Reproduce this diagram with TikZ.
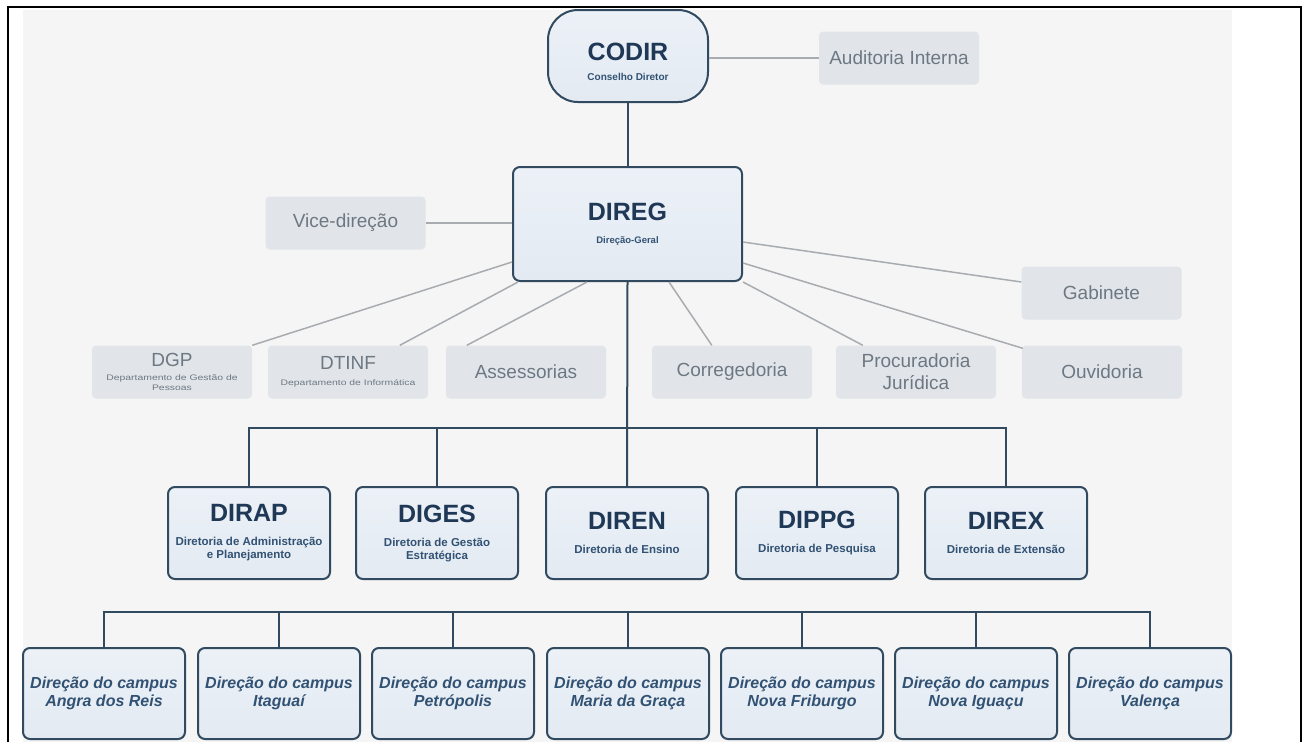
\documentclass[tikz,border=0pt]{standalone}
\usepackage{fontspec}
\setmainfont{Liberation Sans}
\usetikzlibrary{calc}
\definecolor{bgpanel}{RGB}{245,245,245}
\definecolor{darkline}{RGB}{50,74,96}
\definecolor{boxfill}{RGB}{227,234,242}
\definecolor{boxtop}{RGB}{236,241,247}
\definecolor{titlec}{RGB}{31,56,86}
\definecolor{subc}{RGB}{50,82,116}
\definecolor{grayfill}{RGB}{225,229,233}
\definecolor{grayt}{RGB}{110,120,130}
\definecolor{grayline}{RGB}{168,172,176}
\newcommand{\ttlline}[1]{{\fontsize{25}{27}\selectfont\bfseries\color{titlec}#1}}
\newcommand{\subline}[1]{{\fontsize{11.5}{13}\selectfont\bfseries\color{subc}#1}}
\newcommand{\tinyline}[1]{\scalebox{1.3}[1]{\fontsize{8}{9}\selectfont #1}}
\begin{document}
\begin{tikzpicture}[x=1pt,y=-1pt,
  darkbox/.style={draw=darkline,line width=2pt,rounded corners=7pt,top color=boxtop,bottom color=boxfill,
    inner sep=0pt,align=center,text=titlec,font=\fontsize{12}{13}\selectfont},
  codirbox/.style={darkbox,rounded corners=30pt,minimum width=160,minimum height=92},
  dirbox/.style={darkbox,minimum width=162,minimum height=92},
  campbox/.style={darkbox,minimum width=162,minimum height=91,
    font=\fontsize{16}{18}\selectfont\bfseries\itshape,text=subc},
  graybox/.style={fill=grayfill,rounded corners=4pt,inner sep=0pt,align=center,text=grayt,
    minimum width=160,minimum height=53,font=\fontsize{19}{22}\selectfont},
  graylink/.style={draw=grayline,line width=1.5pt},
  buslink/.style={draw=darkline,line width=2pt}
]
\useasboundingbox (0,0) rectangle (1304,742);
\fill[white] (0,0) rectangle (1304,742);
\fill[bgpanel] (23,10) rectangle (1232,742);
\draw[black,line width=2.5pt] (8,742) -- (8,7) -- (1301,7) -- (1301,742);

% top
\node[codirbox] (codir) at (628,56)
  {\rule{0pt}{30pt}\ttlline{CODIR}\\[7pt]{\fontsize{10}{12}\selectfont\bfseries\color{subc}Conselho Diretor}};
\node[graybox] (audit) at (899,58) {Auditoria Interna};

\node[darkbox,minimum width=229,minimum height=114] (direg) at (627.5,224)
  {\ttlline{DIREG}\\[10pt]{\fontsize{9.5}{11}\selectfont\bfseries\color{subc}Direção-Geral}};
\node[graybox] (vice) at (345.5,223) {Vice-direção};
\node[graybox] (gab) at (1101.5,293) {Gabinete};

% staff row
\node[graybox] (dgp) at (172,372)
  {DGP\\[-8pt]\tinyline{Departamento de Gestão de}\\[-12pt]\tinyline{Pessoas}};
\node[graybox] (dtinf) at (348,372)
  {DTINF\\[-6pt]\tinyline{Departamento de Informática}};
\node[graybox] (assess) at (526,372) {Assessorias};
\node[graybox] (correg) at (732,372) {Corregedoria};
\node[graybox] (procur) at (916,372) {Procuradoria\\Jurídica};
\node[graybox] (ouvid) at (1102,372) {Ouvidoria};

% directorates
\node[dirbox] (dirap) at (249,533)
  {\ttlline{DIRAP}\\[11pt]\subline{Diretoria de Administração}\\\subline{e Planejamento}};
\node[dirbox] (diges) at (437,533)
  {\ttlline{DIGES}\\[11pt]\subline{Diretoria de Gestão}\\\subline{Estratégica}};
\node[dirbox] (diren) at (627,533)
  {\ttlline{DIREN}\\[11pt]\subline{Diretoria de Ensino}};
\node[dirbox] (dippg) at (817,533)
  {\ttlline{DIPPG}\\[11pt]\subline{Diretoria de Pesquisa}};
\node[dirbox] (direx) at (1006,533)
  {\ttlline{DIREX}\\[11pt]\subline{Diretoria de Extensão}};

% campuses
\node[campbox] (c1) at (104,693.5) {Direção do campus\\Angra dos Reis};
\node[campbox] (c2) at (279,693.5) {Direção do campus\\Itaguaí};
\node[campbox] (c3) at (453,693.5) {Direção do campus\\Petrópolis};
\node[campbox] (c4) at (628,693.5) {Direção do campus\\Maria da Graça};
\node[campbox] (c5) at (802,693.5) {Direção do campus\\Nova Friburgo};
\node[campbox] (c6) at (976,693.5) {Direção do campus\\Nova Iguaçu};
\node[campbox] (c7) at (1150,693.5) {Direção do campus\\Valença};

\coordinate (b1) at (627,428);
\coordinate (b2) at (628,612);

\draw[graylink] (codir.east |- audit.west) -- (audit.west);
\draw[buslink] (codir.south) -- (codir.south |- direg.north);
\draw[graylink] (vice.east) -- (vice.east -| direg.west);
\draw[graylink] (dgp.north east) -- ($(direg.south west)+(0,-20)$);
\draw[graylink] ($(dtinf.north west)+(132,0)$) -- ($(direg.south west)+(6,0)$);
\draw[graylink] ($(assess.north west)+(21,0)$) -- ($(direg.south west)+(75,0)$);
\draw[graylink] ($(correg.north west)+(60,0)$) -- ($(direg.south west)+(157,0)$);
\draw[graylink] ($(procur.north west)+(27,0)$) -- (direg.south east);
\draw[graylink] ($(ouvid.north west)+(1,3)$) -- ($(direg.south east)+(0,-19)$);
\draw[graylink] ($(gab.west)+(0,-11)$) -- ($(direg.south east)+(0,-40)$);

\draw[buslink] (direg.south) -- (diren.north);
\draw[buslink] (dirap.north) -- (dirap.north |- b1) -- (direx.north |- b1) -- (direx.north);
\draw[buslink] (diges.north) -- (diges.north |- b1);
\draw[buslink] (dippg.north) -- (dippg.north |- b1);

\draw[buslink] (c1.north) -- (c1.north |- b2) -- (c7.north |- b2) -- (c7.north);
\foreach \n in {c2,c3,c4,c5,c6} \draw[buslink] (\n.north) -- (\n.north |- b2);
\end{tikzpicture}
\end{document}
